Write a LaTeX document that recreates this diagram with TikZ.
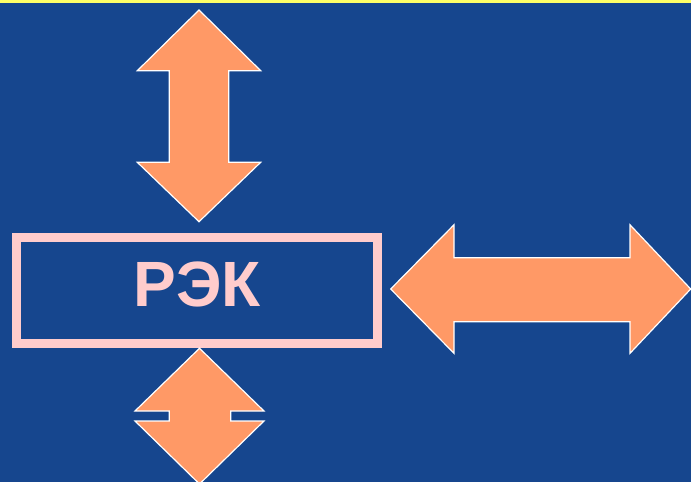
\documentclass[tikz,border=0pt]{standalone}
\usepackage{fontspec}
\setmainfont{Liberation Sans}
\definecolor{bgblue}{RGB}{22,70,142}
\definecolor{arrorange}{RGB}{255,153,102}
\definecolor{boxpink}{RGB}{255,204,204}
\definecolor{topyellow}{RGB}{255,255,102}
\begin{document}
\begin{tikzpicture}[x=1pt,y=-1pt,
  bigarrow/.style={fill=arrorange,draw=white,line width=1.2pt,line join=miter},
  labelbox/.style={draw=boxpink,line width=9pt,minimum width=361.6pt,minimum height=105.2pt,inner sep=0pt,
    text depth=12pt,text=boxpink,font=\bfseries\fontsize{64}{68}\selectfont}]
\useasboundingbox (0,0) rectangle (691,482);
\fill[bgblue] (0,0) rectangle (691,482);
\fill[topyellow] (0,0) rectangle (691,3);
% top vertical double arrow
\draw[bigarrow] (199,10) -- (260.7,70.7) -- (228.7,70.7) -- (228.7,162.3) -- (260.7,162.3)
  -- (199,221.7) -- (137.3,162.3) -- (169.3,162.3) -- (169.3,70.7) -- (137.3,70.7) -- cycle;
% box
\node[labelbox] (rek) at (197,290.5) {РЭК};
% right horizontal double arrow
\draw[bigarrow] (390.7,289) -- (454,224.8) -- (454,257.7) -- (630,257.7) -- (630,224.8)
  -- (690.7,289) -- (630,353.3) -- (630,321.7) -- (454,321.7) -- (454,353.3) -- cycle;
% bottom vertical double arrow
\draw[bigarrow] (199.5,348.3) -- (264,411) -- (230.7,411) -- (230.7,421) -- (264,421)
  -- (199.5,484) -- (135,421) -- (169.3,421) -- (169.3,411) -- (135,411) -- cycle;
\end{tikzpicture}
\end{document}
